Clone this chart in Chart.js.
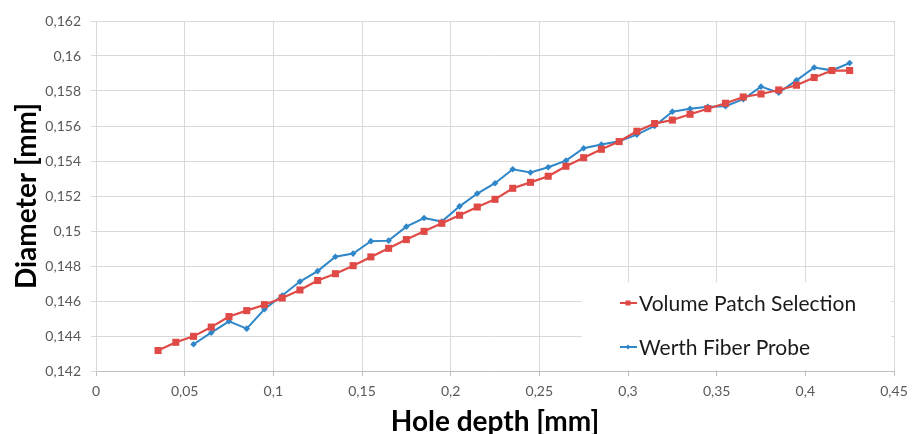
<!DOCTYPE html>
<html lang="en">
<head>
    <meta charset="UTF-8" />
    <title>Hole diameter vs depth</title>
    <script src="https://cdn.jsdelivr.net/npm/chart.js"></script>
    <style>
        html, body { margin: 0; padding: 0; background: #ffffff; }
        #wrap { width: 922px; height: 434px; }
    </style>
</head>
<body>
    <div id="wrap"><canvas id="diameterChart" width="922" height="434"></canvas></div>

    <script>
        // Volume Patch Selection (CT evaluation)
        const vpsDepth = [0.035, 0.045, 0.055, 0.065, 0.075, 0.085, 0.095, 0.105, 0.115, 0.125,
                          0.135, 0.145, 0.155, 0.165, 0.175, 0.185, 0.195, 0.205, 0.215, 0.225,
                          0.235, 0.245, 0.255, 0.265, 0.275, 0.285, 0.295, 0.305, 0.315, 0.325,
                          0.335, 0.345, 0.355, 0.365, 0.375, 0.385, 0.395, 0.405, 0.415, 0.425];
        const vpsDiameter = [0.14317, 0.14364, 0.14398, 0.14451, 0.14511, 0.14545, 0.14579, 0.14617, 0.14663, 0.14717,
                             0.14756, 0.14802, 0.14852, 0.14901, 0.14951, 0.14998, 0.15044, 0.15090, 0.15137, 0.15181,
                             0.15244, 0.15278, 0.15313, 0.15370, 0.15419, 0.15467, 0.15511, 0.15570, 0.15614, 0.15634,
                             0.15667, 0.15699, 0.15730, 0.15766, 0.15783, 0.15806, 0.15833, 0.15877, 0.15917, 0.15917];

        // Werth Fiber Probe (tactile reference)
        const wfpDepth = [0.055, 0.065, 0.075, 0.085, 0.095, 0.105, 0.115, 0.125, 0.135, 0.145,
                          0.155, 0.165, 0.175, 0.185, 0.195, 0.205, 0.215, 0.225, 0.235, 0.245,
                          0.255, 0.265, 0.275, 0.285, 0.295, 0.305, 0.315, 0.325, 0.335, 0.345,
                          0.355, 0.365, 0.375, 0.385, 0.395, 0.405, 0.415, 0.425];
        const wfpDiameter = [0.14353, 0.14419, 0.14484, 0.14442, 0.14553, 0.14631, 0.14711, 0.14771, 0.14853, 0.14871,
                             0.14942, 0.14945, 0.15025, 0.15074, 0.15054, 0.15141, 0.15214, 0.15273, 0.15353, 0.15334,
                             0.15364, 0.15402, 0.15473, 0.15494, 0.15513, 0.15551, 0.15600, 0.15682, 0.15699, 0.15710,
                             0.15713, 0.15753, 0.15825, 0.15791, 0.15861, 0.15934, 0.15918, 0.15960];

        const seriesNames = ['Volume Patch Selection', 'Werth Fiber Probe'];
        const xTitle = 'Hole depth [mm]';
        const yTitle = 'Diameter [mm]';

        const RED = '#e04a46';
        const BLUE = '#2f86c8';
        const FONT = 'Lato, "Open Sans", sans-serif';

        const toPoints = (xs, ys) => xs.map((x, i) => ({ x: x, y: ys[i] }));
        // decimal comma, trailing zeros dropped
        const fmt = v => parseFloat(Number(v).toFixed(4)).toString().replace('.', ',');

        // legend drawn as a white box in the lower right of the plot
        const boxLegend = {
            id: 'boxLegend',
            afterDatasetsDraw(chart) {
                const { ctx, chartArea } = chart;
                const left = 582, top = 282;
                ctx.save();
                ctx.fillStyle = '#ffffff';
                ctx.fillRect(left, top, chartArea.right - 3 - left, chartArea.bottom - 1 - top);
                ctx.font = '21px ' + FONT;
                ctx.textBaseline = 'middle';
                const rows = [303, 347];
                chart.data.datasets.forEach((ds, i) => {
                    const y = rows[i];
                    ctx.strokeStyle = ds.borderColor;
                    ctx.lineWidth = 2;
                    ctx.beginPath();
                    ctx.moveTo(620, y);
                    ctx.lineTo(637, y);
                    ctx.stroke();
                    ctx.fillStyle = ds.borderColor;
                    if (i === 0) {
                        ctx.fillRect(625.5, y - 2.5, 5, 5);
                    } else {
                        ctx.beginPath();
                        ctx.moveTo(628, y - 2.5);
                        ctx.lineTo(630.5, y);
                        ctx.lineTo(628, y + 2.5);
                        ctx.lineTo(625.5, y);
                        ctx.closePath();
                        ctx.fill();
                    }
                    ctx.fillStyle = '#1a1a1a';
                    ctx.textAlign = 'left';
                    ctx.fillText(ds.label, 639, y + 1);
                });
                ctx.restore();
            }
        };

        new Chart(document.getElementById('diameterChart'), {
            type: 'line',
            data: {
                datasets: [{
                    label: seriesNames[0],
                    data: toPoints(vpsDepth, vpsDiameter),
                    borderColor: RED,
                    backgroundColor: RED,
                    borderWidth: 2.2,
                    pointStyle: 'rect',
                    pointRadius: 5,
                    pointBorderWidth: 0,
                    tension: 0
                }, {
                    label: seriesNames[1],
                    data: toPoints(wfpDepth, wfpDiameter),
                    borderColor: BLUE,
                    backgroundColor: BLUE,
                    borderWidth: 2,
                    pointStyle: 'rectRot',
                    pointRadius: 3.3,
                    pointBorderWidth: 0,
                    tension: 0
                }]
            },
            options: {
                responsive: false,
                animation: false,
                layout: { padding: { left: 0, right: 28, top: 21, bottom: 0 } },
                plugins: {
                    legend: { display: false },
                    tooltip: { enabled: false }
                },
                scales: {
                    x: {
                        type: 'linear',
                        min: 0,
                        max: 0.45,
                        afterFit: s => { s.height = 63; },
                        ticks: {
                            stepSize: 0.05,
                            padding: 7,
                            color: '#595959',
                            font: { family: FONT, size: 14 },
                            callback: v => fmt(v)
                        },
                        grid: { color: '#d9d9d9', lineWidth: 1, tickLength: 5, tickColor: '#bfbfbf' },
                        border: { color: '#bfbfbf', width: 1 },
                        title: {
                            display: true,
                            text: xTitle,
                            color: '#000000',
                            font: { family: FONT, size: 28, weight: 'bold' },
                            padding: { top: 0, bottom: -5 }
                        }
                    },
                    y: {
                        type: 'linear',
                        min: 0.142,
                        max: 0.162,
                        afterFit: s => { s.width = 96; },
                        ticks: {
                            stepSize: 0.002,
                            padding: 10,
                            color: '#595959',
                            font: { family: FONT, size: 14 },
                            callback: v => fmt(v)
                        },
                        grid: { color: '#d9d9d9', lineWidth: 1, tickLength: 5, tickColor: '#d9d9d9' },
                        border: { color: '#d9d9d9', width: 1 },
                        title: {
                            display: true,
                            text: yTitle,
                            color: '#000000',
                            font: { family: FONT, size: 28, weight: 'bold' },
                            padding: { top: 10, bottom: 0 }
                        }
                    }
                }
            },
            plugins: [boxLegend]
        });
    </script>
</body>
</html>
